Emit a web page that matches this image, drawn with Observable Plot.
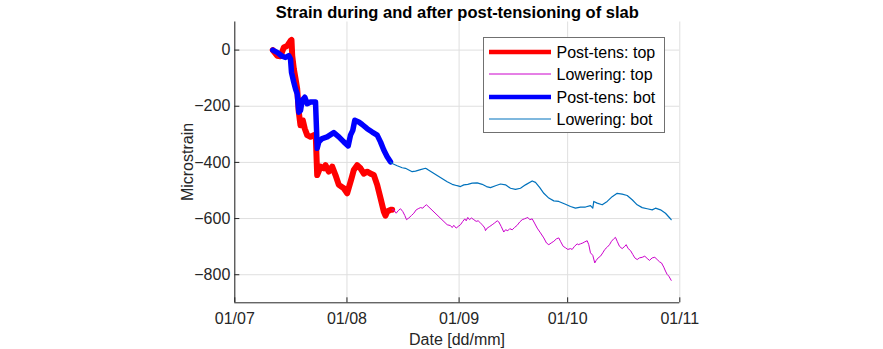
<!DOCTYPE html>
<html><head><meta charset="utf-8">
<script src="https://cdn.jsdelivr.net/npm/d3@7"></script>
<script src="https://cdn.jsdelivr.net/npm/@observablehq/plot@0.6"></script>
<style>
body{margin:0;background:#fff}
#chart svg{font-family:Arial,"Liberation Sans",sans-serif}
</style>
</head><body><div id="chart"></div>
<script>
// ---- data (days after 01/07, microstrain) ----
const title = "Strain during and after post-tensioning of slab";
const xLabel = "Date [dd/mm]";
const yLabel = "Microstrain";
const seriesNames = ["Post-tens: top", "Lowering: top", "Post-tens: bot", "Lowering: bot"];
const xTickLabels = ["01/07", "01/08", "01/09", "01/10", "01/11"];
const xTickDays = [0, 31, 62, 92, 123];
const yTicks = [0, -200, -400, -600, -800];

const postTopDay = [10.50,11.72,12.63,13.54,14.48,15.40,15.67,15.87,16.31,16.78,17.25,17.69,18.16,18.79,19.35,20.01,20.92,21.84,22.39,22.77,23.69,24.60,25.07,25.98,26.92,27.83,28.75,30.13,31.07,32.26,32.89,33.83,34.74,35.66,36.59,37.51,38.42,39.36,40.27,41.18,41.65,42.12,43.03,43.50];
const postTopVal = [0,-20,-22,9,15,33,36,-20,-67,-101,-138,-221,-268,-250,-280,-303,-309,-303,-310,-445,-415,-421,-410,-433,-415,-445,-480,-492,-510,-457,-427,-410,-421,-440,-433,-440,-445,-480,-527,-575,-590,-575,-569,-569];

const lowTopDay = [43.50,43.95,44.61,45.16,45.80,46.43,46.99,47.46,48.09,48.84,49.48,50.14,50.69,51.33,51.96,52.51,52.99,58.71,59.62,60.09,60.53,61.19,61.75,62.38,63.02,63.57,63.96,64.40,64.87,65.42,66.06,66.72,67.27,67.91,68.55,69.10,69.29,69.76,70.48,71.14,71.78,72.53,72.97,73.63,74.35,74.82,75.46,76.01,76.67,77.31,78.05,78.77,79.44,80.07,80.62,80.98,81.54,82.20,82.84,83.58,84.49,85.41,86.15,86.79,87.45,88.17,88.92,89.55,90.02,90.77,91.40,92.04,92.79,93.25,93.89,94.64,94.91,95.55,96.18,96.74,97.40,97.84,98.31,98.95,99.50,99.89,100.44,101.08,101.71,102.27,102.93,103.57,104.12,104.75,105.22,105.69,106.33,107.07,107.79,108.18,108.73,109.37,110.01,110.56,111.22,111.86,112.60,113.32,113.98,114.62,115.37,116.09,116.75,117.39,117.94,118.57,119.04,119.51,119.96,120.62];
const lowTopVal = [-569,-569,-581,-572,-565,-575,-589,-604,-598,-589,-581,-569,-565,-561,-563,-555,-551,-622,-625,-632,-624,-634,-628,-622,-610,-601,-608,-596,-604,-598,-604,-610,-608,-616,-624,-634,-643,-634,-628,-622,-616,-608,-612,-628,-648,-640,-643,-636,-640,-632,-624,-612,-604,-601,-598,-596,-604,-601,-616,-634,-651,-669,-687,-693,-687,-681,-672,-669,-681,-699,-704,-710,-707,-710,-699,-690,-693,-690,-687,-683,-679,-693,-722,-731,-758,-749,-740,-734,-722,-710,-702,-693,-681,-672,-667,-681,-699,-707,-699,-693,-707,-714,-728,-740,-746,-740,-738,-734,-742,-749,-740,-738,-746,-754,-758,-773,-787,-799,-805,-820];

const postBotDay = [10.50,11.72,13.10,14.01,14.93,15.40,15.67,16.31,16.78,17.25,17.69,18.16,18.63,19.35,20.01,20.92,22.31,22.58,22.77,23.22,24.16,25.54,27.36,28.75,30.13,31.34,31.98,32.61,33.17,34.27,35.21,36.59,37.98,39.36,40.27,41.18,42.12,43.03];
const postBotVal = [0,-8,-22,-26,-20,-32,-79,-115,-138,-156,-221,-215,-179,-168,-191,-185,-185,-280,-350,-327,-315,-309,-294,-309,-327,-341,-303,-286,-250,-256,-265,-280,-292,-303,-327,-356,-380,-398];

const lowBotDay = [43.03,43.50,44.89,46.27,47.18,48.09,49.03,49.95,51.33,52.71,53.18,58.71,60.09,61.47,62.38,63.30,64.40,65.62,67.00,68.38,69.57,70.67,72.06,73.44,74.82,76.20,77.58,78.96,80.34,82.20,83.11,84.30,85.41,86.79,88.17,89.55,91.40,92.79,94.17,95.55,96.93,98.31,98.95,99.23,100.17,101.55,102.93,104.31,105.69,107.07,108.46,109.84,111.22,112.60,113.98,115.37,116.28,117.67,119.04,120.23,120.62];
const lowBotVal = [-398,-404,-412,-419,-421,-427,-433,-431,-426,-421,-424,-469,-478,-483,-486,-480,-478,-474,-473,-478,-486,-490,-483,-477,-480,-492,-496,-492,-480,-466,-471,-490,-510,-527,-537,-539,-549,-557,-563,-559,-559,-554,-563,-539,-545,-551,-539,-522,-510,-513,-518,-533,-551,-561,-565,-569,-563,-569,-581,-598,-604];

// ---- build ----
const t0 = Date.UTC(2017, 6, 1);
const toDate = d => new Date(t0 + d * 864e5);
const rows = (days, vals) => days.map((d, i) => ({date: toDate(d), v: vals[i]}));
const postTop = rows(postTopDay, postTopVal);
const lowTop = rows(lowTopDay, lowTopVal);
const postBot = rows(postBotDay, postBotVal);
const lowBot = rows(lowBotDay, lowBotVal);
const xTickDates = xTickDays.map(toDate);
const labelOf = new Map(xTickDates.map((d, i) => [+d, xTickLabels[i]]));

const style = [
  {stroke: "#ff0000", width: 6, legendWidth: 4.5},
  {stroke: "#cc00cc", width: 1, legendWidth: 1},
  {stroke: "#0000ff", width: 5.5, legendWidth: 4.5},
  {stroke: "#0072bd", width: 1.2, legendWidth: 1.2}
];
const axisColor = "#262626";
const gridColor = "#dfdfdf";

const W = 883, H = 349;
const mL = 234.3, mR = W - 679.3, mT = 21.5, mB = H - 302.3;

const plot = Plot.plot({
  width: W, height: H,
  marginLeft: mL, marginRight: mR, marginTop: mT, marginBottom: mB,
  style: {fontFamily: "Arial, 'Liberation Sans', sans-serif", fontSize: "16px", color: axisColor, background: "white", overflow: "visible"},
  x: {type: "utc", domain: [toDate(0), toDate(123)]},
  y: {domain: [-900, 100]},
  marks: [
    Plot.ruleY(yTicks, {stroke: gridColor, strokeWidth: 1}),
    Plot.ruleX(xTickDates, {stroke: gridColor, strokeWidth: 1}),
    Plot.line(postTop, {x: "date", y: "v", stroke: style[0].stroke, strokeWidth: style[0].width, strokeLinejoin: "round", strokeLinecap: "round"}),
    Plot.line(lowTop, {x: "date", y: "v", stroke: style[1].stroke, strokeWidth: style[1].width}),
    Plot.line(postBot, {x: "date", y: "v", stroke: style[2].stroke, strokeWidth: style[2].width, strokeLinejoin: "round", strokeLinecap: "round"}),
    Plot.line(lowBot, {x: "date", y: "v", stroke: style[3].stroke, strokeWidth: style[3].width}),
    Plot.ruleX([toDate(0)], {stroke: axisColor, strokeWidth: 1}),
    Plot.ruleY([-900], {stroke: axisColor, strokeWidth: 1}),
    Plot.axisY({ticks: yTicks, tickSize: -5, tickPadding: 9.5, label: null, stroke: axisColor}),
    Plot.axisX({ticks: xTickDates, tickSize: -5, tickPadding: 14.5, label: null, stroke: axisColor, tickFormat: d => labelOf.get(+d)})
  ]
});

const svg = d3.select(plot);
// title
svg.append("text").attr("x", 457.3).attr("y", 17.5).attr("text-anchor", "middle")
  .attr("font-weight", "bold").attr("font-size", 16.5).attr("fill", "#000").text(title);
// axis labels
svg.append("text").attr("x", 457).attr("y", 345).attr("text-anchor", "middle")
  .attr("font-size", 16).attr("fill", axisColor).text(xLabel);
svg.append("text").attr("transform", "translate(193,162) rotate(-90)").attr("text-anchor", "middle")
  .attr("font-size", 16).attr("fill", axisColor).text(yLabel);
// legend
const lg = svg.append("g");
lg.append("rect").attr("x", 483.5).attr("y", 37.5).attr("width", 181).attr("height", 95)
  .attr("fill", "white").attr("stroke", "#707070").attr("stroke-width", 1);
const rowY = [52, 74, 97, 119];
seriesNames.forEach((name, i) => {
  lg.append("line").attr("x1", 489).attr("x2", 551).attr("y1", rowY[i]).attr("y2", rowY[i])
    .attr("stroke", style[i].stroke).attr("stroke-width", style[i].legendWidth);
  lg.append("text").attr("x", 556.5).attr("y", rowY[i]).attr("dy", "0.35em")
    .attr("text-anchor", "start").attr("font-size", 16).attr("fill", "#000").text(name);
});

document.getElementById("chart").appendChild(plot);
</script>
</body></html>
